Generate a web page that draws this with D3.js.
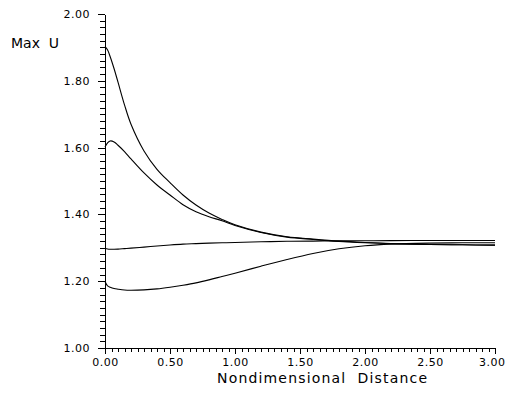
<!DOCTYPE html>
<html lang="en">
<head>
<meta charset="UTF-8">
<title>Max U vs Nondimensional Distance</title>
<script src="https://d3js.org/d3.v7.min.js"></script>
<style>
body { margin: 0; background: #fff; }
text { font-family: "DejaVu Sans", sans-serif; fill: #000; }
</style>
</head>
<body>
<div id="chart"></div>
<script>
// values
const distance = [0, 0.02, 0.04, 0.07, 0.1, 0.15, 0.2, 0.3, 0.4, 0.5, 0.6, 0.7, 0.8, 0.9, 1.0, 1.2, 1.4, 1.6, 1.8, 2.0, 2.2, 2.5, 2.75, 3.0];
const curveA = [1.902, 1.892, 1.872, 1.836, 1.796, 1.728, 1.670, 1.590, 1.535, 1.495, 1.458, 1.428, 1.404, 1.385, 1.369, 1.347, 1.333, 1.326, 1.320, 1.316, 1.313, 1.310, 1.309, 1.308];
const curveB = [1.602, 1.614, 1.620, 1.617, 1.607, 1.588, 1.566, 1.524, 1.488, 1.458, 1.429, 1.408, 1.393, 1.381, 1.367, 1.346, 1.332, 1.325, 1.319, 1.315, 1.312, 1.310, 1.309, 1.308];
const curveC = [1.298, 1.2965, 1.2958, 1.2955, 1.296, 1.2975, 1.299, 1.302, 1.3055, 1.3085, 1.311, 1.3125, 1.314, 1.315, 1.316, 1.318, 1.3195, 1.320, 1.321, 1.321, 1.3215, 1.322, 1.322, 1.322];
const curveD = [1.199, 1.186, 1.182, 1.178, 1.176, 1.1735, 1.173, 1.174, 1.177, 1.182, 1.188, 1.195, 1.204, 1.214, 1.224, 1.245, 1.265, 1.283, 1.297, 1.306, 1.311, 1.314, 1.315, 1.315];
const series = [curveA, curveB, curveC, curveD];

const xTicks = [0, 0.5, 1.0, 1.5, 2.0, 2.5, 3.0];
const yTicks = [1.0, 1.2, 1.4, 1.6, 1.8, 2.0];

const width = 506, height = 395;
const svg = d3.select("#chart").append("svg")
  .attr("width", width)
  .attr("height", height);

const x = d3.scaleLinear().domain([0, 3]).range([105, 495]);
const y = d3.scaleLinear().domain([1, 2]).range([348, 14]);

// minor ticks (every 0.05 on x, 0.02 on y)
const xMinor = d3.range(0, 61).map(i => i * 0.05);
const yMinor = d3.range(0, 51).map(i => 1 + i * 0.02);

svg.append("g")
  .attr("transform", `translate(0,${y(1)})`)
  .call(d3.axisBottom(x).tickValues(xMinor).tickSize(4).tickSizeOuter(0).tickFormat(""));

svg.append("g")
  .attr("transform", `translate(${x(0)},0)`)
  .call(d3.axisLeft(y).tickValues(yMinor).tickSize(5).tickSizeOuter(0).tickFormat(""));

// major ticks + labels
const xAxis = svg.append("g")
  .attr("transform", `translate(0,${y(1)})`)
  .call(d3.axisBottom(x).tickValues(xTicks).tickSize(6).tickSizeOuter(0).tickPadding(4)
    .tickFormat(d3.format(".2f")));
xAxis.selectAll("text").style("font-size", "11px").style("letter-spacing", "0.5px");
// last label sits against the right edge as in the original
xAxis.selectAll(".tick").filter(d => d === 3).select("text")
  .attr("text-anchor", "end").attr("x", width - 1 - x(3));

const yAxis = svg.append("g")
  .attr("transform", `translate(${x(0)},0)`)
  .call(d3.axisLeft(y).tickValues(yTicks).tickSize(7).tickSizeOuter(0).tickPadding(8)
    .tickFormat(d3.format(".2f")));
yAxis.selectAll("text").style("font-size", "11px").style("letter-spacing", "0.5px");

svg.selectAll(".domain, .tick line")
  .attr("stroke", "#000")
  .attr("stroke-width", 1)
  .attr("shape-rendering", "crispEdges");
svg.selectAll(".domain").attr("stroke-width", 1.3);

// curves
const line = d3.line()
  .x((d, i) => x(distance[i]))
  .y(d => y(d))
  .curve(d3.curveCatmullRom.alpha(0.5));

svg.append("g").selectAll("path")
  .data(series)
  .join("path")
  .attr("fill", "none")
  .attr("stroke", "#000")
  .attr("stroke-width", 1.1)
  .attr("d", line);

// titles
svg.append("text")
  .attr("x", 11).attr("y", 48)
  .style("font-size", "14px")
  .attr("xml:space", "preserve")
  .text("Max  U");

svg.append("text")
  .attr("x", 217).attr("y", 383)
  .style("font-size", "14px")
  .attr("textLength", 210)
  .attr("lengthAdjust", "spacing")
  .attr("xml:space", "preserve")
  .text("Nondimensional  Distance");
</script>
</body>
</html>
